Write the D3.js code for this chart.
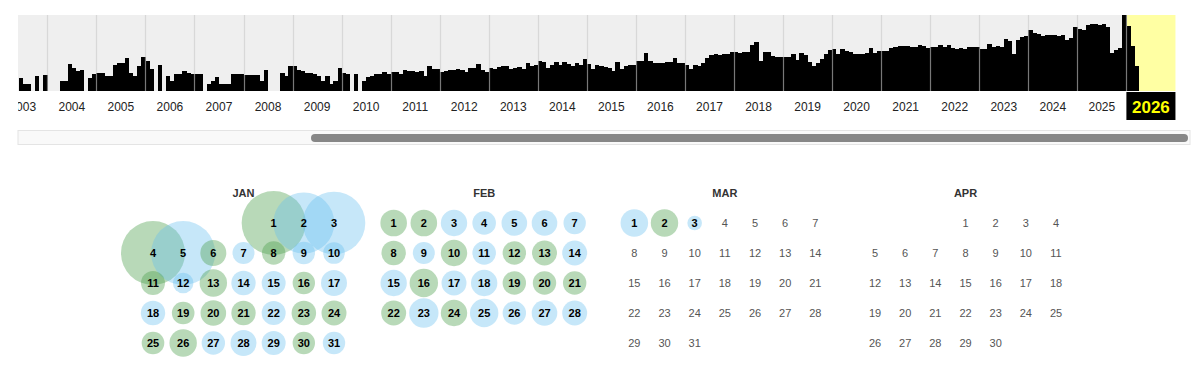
<!DOCTYPE html>
<html>
<head>
<meta charset="utf-8">
<script src="https://cdn.jsdelivr.net/npm/d3@7"></script>
<style>
	body { margin: 0; background: #fff; }
	svg { display: block; font-family: "Liberation Sans", Arial, Helvetica, sans-serif; }
</style>
</head>
<body>
<div id="chart"></div>
<script>
// sparkline: captures per month, one row per year
const sparkYears = [2003, 2004, 2005, 2006, 2007, 2008, 2009, 2010, 2011, 2012, 2013, 2014,
	2015, 2016, 2017, 2018, 2019, 2020, 2021, 2022, 2023, 2024, 2025, 2026]
const monthlyCaptures = [
	[0, 0, 0, 0, 0, 13, 7, 7, 0, 15, 0, 16],
	[0, 0, 0, 10, 10, 27, 23, 20, 21, 0, 13, 17],
	[17.7, 17.7, 14.7, 14.7, 26, 27.7, 27.7, 32.7, 17.7, 14.7, 24.7, 34],
	[30, 22.5, 0, 26, 0, 15, 10, 16.7, 16.7, 20.5, 18, 17.3],
	[16.7, 16.7, 0, 6.7, 10, 14.5, 6.7, 6.7, 6.7, 17.5, 17.5, 17.5],
	[16.5, 16.5, 16.5, 16.5, 9.7, 21.5, 0, 0, 0, 17.7, 14.7, 24.7],
	[24.7, 21, 20, 18, 18, 17, 15, 10, 14.7, 7, 9.7, 22.7],
	[18, 16.7, 0, 16.7, 0, 9.7, 13.7, 15.3, 16.7, 16.7, 19.3, 16.7],
	[18.7, 19.3, 17, 21, 20, 20, 19.5, 20, 15, 24.7, 22, 22.3],
	[18.7, 20, 21, 21, 22, 21, 19, 22.7, 22.7, 26.7, 21.3, 18.7],
	[23.3, 21.7, 24, 25.3, 24.7, 22, 23.3, 24, 22.3, 28, 25.3, 25.7],
	[30, 28.7, 23, 26, 28.7, 26, 28.7, 27, 25, 27.7, 26, 32],
	[27, 22.5, 26.5, 25.5, 24.5, 23, 20, 28.7, 22, 25, 26.5, 25.8],
	[30.5, 30, 38, 30, 28, 28, 28, 29.5, 29.5, 33.5, 28, 28],
	[25.7, 21.7, 25.7, 25.3, 28.3, 33, 36, 37, 36.5, 37.3, 37.5, 39],
	[39.5, 38.5, 39, 39.5, 46, 49.5, 30.5, 39.5, 39.5, 34.7, 34.5, 34],
	[34.3, 34, 37, 31.3, 38.5, 36, 29.3, 24.7, 28, 32.5, 37, 41.5],
	[41.7, 36.8, 42.5, 40.5, 39.2, 37, 36.8, 36.8, 38.3, 43.5, 38.2, 39.8],
	[40.5, 40.5, 43.5, 44, 44.8, 44.8, 45.5, 44.5, 43.8, 46.3, 45, 43.5],
	[44, 44, 46.5, 44, 46.5, 42.8, 41.7, 42.8, 42.5, 43.7, 44, 44],
	[42.5, 42.5, 46.7, 44, 44.7, 44.5, 52.3, 50.5, 37.2, 51.3, 53.8, 55.5],
	[61, 58.3, 56.7, 55.5, 55.7, 55.7, 55.7, 55, 56.5, 51.5, 53.3, 64.5],
	[62.5, 61.3, 66, 67, 67, 66, 67, 64, 37.7, 41, 43.5, 76],
	[64.7, 44.7, 25.5]
]
const currentYear = 2026

// calendar: captures per day ('g' = redirect / green, 'b' = ok / blue)
const calYear = 2026
const calMonths = ['JAN', 'FEB', 'MAR', 'APR']
const janCounts = [1024, 930, 980, 1024, 1024, 169, 121, 137, 125, 117, 144, 106, 188, 149, 144, 125,
	169, 149, 128, 164, 149, 144, 151, 156, 128, 188, 137, 169, 144, 125, 125]
const janTypes = ['g', 'b', 'b', 'g', 'b', 'g', 'b', 'g', 'b', 'b', 'g', 'b', 'g', 'b', 'b', 'g',
	'b', 'b', 'g', 'g', 'g', 'b', 'g', 'g', 'g', 'g', 'b', 'b', 'b', 'g', 'b']
const febCounts = [177, 177, 174, 139, 164, 164, 125, 149, 121, 174, 139, 137, 156, 156, 174, 202,
	156, 174, 137, 137, 137, 156, 216, 174, 202, 137, 164, 156]
const febTypes = ['g', 'g', 'b', 'b', 'b', 'b', 'b', 'g', 'b', 'g', 'b', 'g', 'g', 'b', 'b', 'g',
	'b', 'b', 'g', 'g', 'g', 'g', 'b', 'g', 'b', 'b', 'b', 'b']
const marCounts = [190, 188, 53]
const marTypes = ['b', 'g', 'b']
const aprCounts = []
const aprTypes = []

const monthCounts = [janCounts, febCounts, marCounts, aprCounts]
const monthTypes = [janTypes, febTypes, marTypes, aprTypes]

const svg = d3.select('#chart')
	.append('svg')
	.attr('width', 1200)
	.attr('height', 378)

//----------------------------------------------------------------- sparkline
const x = d3.scaleLinear()
	.domain([2003, 2027])
	.range([-1.75, 1175.45])

const y = d3.scaleLinear()
	.domain([0, 76])
	.range([91, 15])

svg.append('defs')
	.append('clipPath')
	.attr('id', 'spark-clip')
	.append('rect')
	.attr('x', 18)
	.attr('y', 0)
	.attr('width', 1182)
	.attr('height', 125)

const spark = svg.append('g').attr('clip-path', 'url(#spark-clip)')

spark.append('rect')
	.attr('x', x(2003))
	.attr('y', y.range()[1])
	.attr('width', x(currentYear) - x(2003))
	.attr('height', y(0) - y.range()[1])
	.attr('fill', '#efefef')

spark.append('rect')
	.attr('x', x(currentYear))
	.attr('y', y.range()[1])
	.attr('width', x(currentYear + 1) - x(currentYear))
	.attr('height', y(0) - y.range()[1])
	.attr('fill', '#ffffa3')

const bars = []
sparkYears.forEach((yr, i) => {
	monthlyCaptures[i].forEach((v, m) => {
		if (v > 0) bars.push({ yr, m, v })
	})
})

spark.selectAll('rect.bar')
	.data(bars)
	.enter()
	.append('rect')
	.attr('class', 'bar')
	.attr('shape-rendering', 'crispEdges')
	.attr('x', d => x(d.yr + d.m / 12))
	.attr('width', d => x(d.yr + (d.m + 1) / 12) - x(d.yr + d.m / 12) + 0.3)
	.attr('y', d => y(d.v))
	.attr('height', d => y(0) - y(d.v))
	.attr('fill', '#000')

spark.selectAll('line.year')
	.data(sparkYears.slice(1))
	.enter()
	.append('line')
	.attr('class', 'year')
	.attr('x1', d => Math.round(x(d)) + 0.5)
	.attr('x2', d => Math.round(x(d)) + 0.5)
	.attr('y1', y.range()[1])
	.attr('y2', y(0))
	.attr('stroke', '#c8c8c8')
	.attr('stroke-opacity', 0.6)
	.attr('stroke-width', 1.2)

spark.selectAll('text.year')
	.data(sparkYears.filter(d => d !== currentYear))
	.enter()
	.append('text')
	.attr('class', 'year')
	.attr('x', d => x(d + 0.5))
	.attr('y', 111)
	.attr('text-anchor', 'middle')
	.attr('font-size', 12)
	.attr('fill', '#222')
	.text(d => d)

spark.append('rect')
	.attr('x', x(currentYear))
	.attr('y', 92)
	.attr('width', x(currentYear + 1) - x(currentYear))
	.attr('height', 28)
	.attr('fill', '#000')

spark.append('text')
	.attr('x', x(currentYear + 0.5))
	.attr('y', 112.5)
	.attr('text-anchor', 'middle')
	.attr('font-size', 17)
	.attr('font-weight', 'bold')
	.attr('fill', '#ffff00')
	.text(currentYear)

// scrollbar
svg.append('rect')
	.attr('x', 18)
	.attr('y', 130.5)
	.attr('width', 1172)
	.attr('height', 14)
	.attr('fill', '#f9f9f9')
	.attr('stroke', '#e4e4e4')

svg.append('rect')
	.attr('x', 311)
	.attr('y', 134)
	.attr('width', 877)
	.attr('height', 8)
	.attr('rx', 4)
	.attr('fill', '#878787')

//----------------------------------------------------------------- calendar
const monthX = d3.scaleLinear().domain([0, 3]).range([153, 875])
const colX = d3.scaleLinear().domain([0, 6]).range([0, 181])
const rowY = d3.scaleLinear().domain([0, 4]).range([223, 343])
const r = d3.scaleSqrt().domain([0, 1024]).range([0, 32])
const fill = { g: 'rgba(77,160,77,0.4)', b: 'rgba(100,190,240,0.37)' }

const days = []
calMonths.forEach((name, mi) => {
	const first = new Date(calYear, mi, 1)
	const n = d3.timeDay.count(first, d3.timeMonth.offset(first, 1))
	for (let day = 1; day <= n; day++) {
		const date = new Date(calYear, mi, day)
		days.push({
			mi,
			day,
			col: date.getDay(),
			row: d3.timeWeek.count(first, date),
			count: monthCounts[mi][day - 1] || 0,
			type: monthTypes[mi][day - 1]
		})
	}
})

const cal = svg.append('g')

cal.selectAll('text.month')
	.data(calMonths)
	.enter()
	.append('text')
	.attr('class', 'month')
	.attr('x', (d, i) => monthX(i) + colX(3))
	.attr('y', 197)
	.attr('text-anchor', 'middle')
	.attr('font-size', 11)
	.attr('font-weight', 'bold')
	.attr('fill', '#333')
	.text(d => d)

cal.selectAll('circle')
	.data(days.filter(d => d.count > 0))
	.enter()
	.append('circle')
	.attr('cx', d => monthX(d.mi) + colX(d.col))
	.attr('cy', d => rowY(d.row))
	.attr('r', d => r(d.count))
	.attr('fill', d => fill[d.type])

cal.selectAll('text.day')
	.data(days)
	.enter()
	.append('text')
	.attr('class', 'day')
	.attr('x', d => monthX(d.mi) + colX(d.col))
	.attr('y', d => rowY(d.row))
	.attr('dy', '0.36em')
	.attr('text-anchor', 'middle')
	.attr('font-size', 11)
	.attr('font-weight', d => d.count > 0 ? 'bold' : 'normal')
	.attr('fill', d => d.count > 0 ? '#000' : '#555')
	.text(d => d.day)
</script>
</body>
</html>
